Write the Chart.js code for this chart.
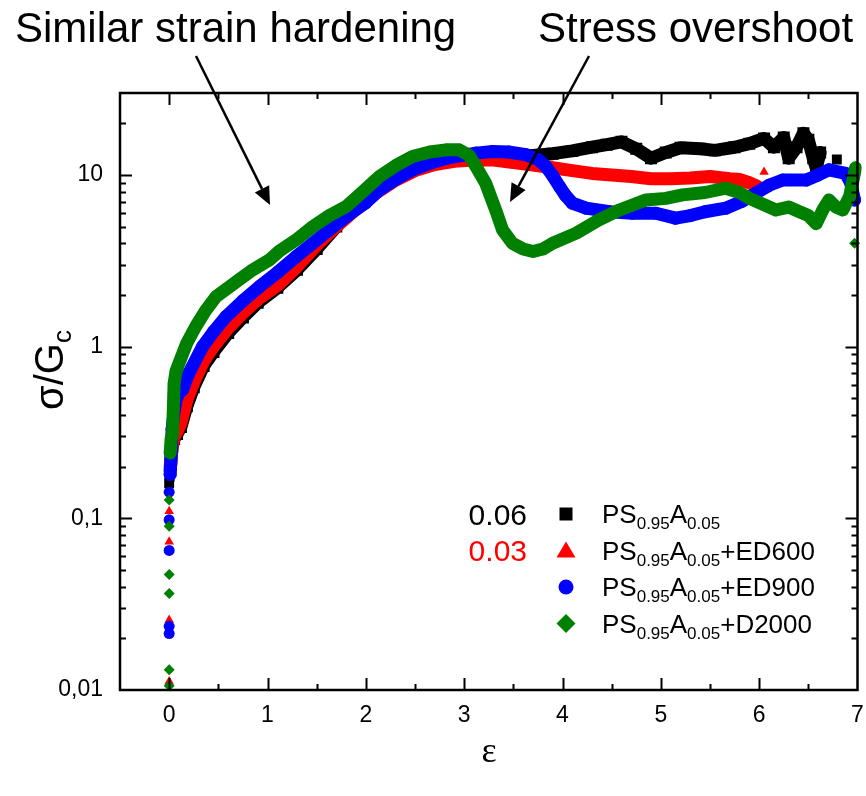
<!DOCTYPE html>
<html>
<head>
<meta charset="utf-8">
<script src="https://cdn.jsdelivr.net/npm/chart.js@4.4.0/dist/chart.umd.min.js"></script>
<style>
  html, body { margin: 0; padding: 0; background: #fff; }
  #wrap { width: 866px; height: 796px; }
</style>
</head>
<body>
<div id="wrap"><canvas id="stressChart" width="866" height="796"></canvas></div>
<script>
// axis ticks
const xTicks = [0, 1, 2, 3, 4, 5, 6, 7];
const yTicks = [0.01, 0.1, 1, 10];
const yTickLabels = ['0,01', '0,1', '1', '10'];

// PS0.95A0.05
const strainA = [0.01, 0.02, 0.03, 0.05, 0.08, 0.12, 0.18, 0.25, 0.35, 0.45, 0.6, 0.75, 0.9, 1.1, 1.3, 1.5, 1.7, 1.9, 2.1, 2.3, 2.5, 2.7, 2.9, 3.1, 3.3, 3.5, 3.7, 3.9, 4.1, 4.3, 4.45, 4.6, 4.75, 4.9, 5.05, 5.2, 5.4, 5.55, 5.75, 5.9, 6.05, 6.15, 6.25, 6.3, 6.38, 6.45, 6.5, 6.55, 6.58, 6.62];
const stressA = [0.19, 0.22, 0.26, 0.29, 0.31, 0.34, 0.45, 0.58, 0.77, 0.93, 1.2, 1.48, 1.8, 2.2, 2.8, 3.7, 5.0, 6.7, 8.8, 10.8, 12.1, 12.8, 12.9, 12.7, 12.6, 12.7, 13.0, 13.3, 13.8, 14.5, 15.0, 15.6, 14.2, 12.5, 13.5, 14.4, 14.2, 13.9, 14.5, 15.2, 16.3, 14.5, 16.5, 12.5, 14.5, 17.5, 16.0, 12.5, 11.0, 13.5];
const onsetStrainA = [0, 0.005, 6.79];
const onsetStressA = [0.16, 0.175, 12.3];

// PS0.95A0.05+ED600
const strainB = [0.01, 0.02, 0.03, 0.05, 0.08, 0.12, 0.18, 0.25, 0.35, 0.45, 0.6, 0.75, 0.9, 1.1, 1.3, 1.5, 1.7, 1.9, 2.1, 2.3, 2.5, 2.7, 2.9, 3.1, 3.3, 3.5, 3.7, 3.9, 4.1, 4.3, 4.5, 4.7, 4.9, 5.1, 5.3, 5.5, 5.7, 5.8, 5.9, 5.98];
const stressB = [0.2, 0.23, 0.26, 0.3, 0.32, 0.36, 0.49, 0.62, 0.82, 1.0, 1.28, 1.57, 1.88, 2.27, 2.92, 3.9, 5.0, 6.3, 7.8, 9.3, 10.6, 11.5, 12.0, 12.2, 12.2, 11.8, 11.4, 11.0, 10.6, 10.2, 10.0, 9.8, 9.5, 9.5, 9.6, 9.8, 9.5, 9.4, 9.0, 8.6];
const onsetStrainB = [0, 0, 0, 0, 0, 6.05];
const onsetStressB = [0.11, 0.073, 0.0256, 0.0235, 0.0112, 10.4];

// PS0.95A0.05+ED900
const strainC = [0.01, 0.02, 0.03, 0.05, 0.07, 0.1, 0.135, 0.2, 0.34, 0.45, 0.58, 0.75, 0.92, 1.1, 1.29, 1.46, 1.63, 1.8, 2.0, 2.14, 2.3, 2.475, 2.65, 2.815, 2.95, 3.12, 3.29, 3.45, 3.63, 3.75, 3.83, 3.9, 3.97, 4.03, 4.1, 4.24, 4.48, 4.71, 4.95, 5.15, 5.3, 5.45, 5.66, 5.82, 5.97, 6.1, 6.24, 6.48, 6.6, 6.71, 6.88, 6.93, 6.97];
const stressC = [0.18, 0.24, 0.33, 0.42, 0.49, 0.54, 0.56, 0.7, 1.0, 1.22, 1.5, 1.85, 2.24, 2.7, 3.34, 4.0, 4.8, 5.72, 6.9, 8.2, 9.4, 10.7, 11.7, 12.5, 12.9, 13.4, 13.7, 13.6, 13.1, 12.3, 11.2, 9.9, 8.55, 7.6, 6.85, 6.4, 6.1, 5.98, 5.98, 5.6, 5.8, 6.1, 6.4, 7.0, 7.85, 8.7, 9.35, 9.35, 10.0, 10.7, 10.2, 9.0, 7.15];
const onsetStrainC = [0, 0, 0, 0, 0];
const onsetStressC = [0.142, 0.098, 0.065, 0.0235, 0.0213];

// PS0.95A0.05+D2000
const strainD = [0.01, 0.02, 0.035, 0.05, 0.07, 0.1, 0.18, 0.27, 0.37, 0.475, 0.6, 0.71, 0.85, 1.02, 1.12, 1.29, 1.46, 1.63, 1.8, 1.97, 2.14, 2.3, 2.475, 2.65, 2.815, 2.95, 3.05, 3.12, 3.22, 3.32, 3.39, 3.49, 3.6, 3.7, 3.8, 3.9, 4.14, 4.37, 4.58, 4.85, 5.05, 5.22, 5.45, 5.66, 5.8, 5.9, 6.05, 6.17, 6.3, 6.41, 6.5, 6.58, 6.65, 6.71, 6.78, 6.85, 6.92, 6.98];
const stressD = [0.24, 0.29, 0.31, 0.61, 0.72, 0.8, 1.05, 1.31, 1.62, 1.95, 2.2, 2.45, 2.8, 3.2, 3.6, 4.18, 5.0, 5.8, 6.54, 8.0, 9.8, 11.3, 12.8, 13.6, 14.0, 14.0, 13.0, 11.2, 8.9, 6.25, 4.78, 4.0, 3.7, 3.58, 3.7, 4.0, 4.58, 5.47, 6.25, 7.15, 7.3, 7.65, 7.9, 8.37, 7.9, 7.3, 6.7, 6.25, 6.5, 6.1, 5.8, 5.2, 6.3, 7.15, 6.5, 6.25, 7.5, 11.0];
const onsetStrainD = [0, 0, 0, 0, 0, 0, 6.97];
const onsetStressD = [0.128, 0.09, 0.047, 0.0365, 0.0131, 0.0106, 4.0];

const legendLabels = ['PS_{0.95}A_{0.05}', 'PS_{0.95}A_{0.05}+ED600', 'PS_{0.95}A_{0.05}+ED900', 'PS_{0.95}A_{0.05}+D2000'];
const seriesColors = ['#000000', '#ff0000', '#0000ff', '#008000'];
const seriesMarkers = ['rect', 'triangle', 'circle', 'rectRot'];
const gapLabels = ['0.06', '0.03'];

const SANS = '"Liberation Sans", Arial, sans-serif';

const toPoints = (xs, ys) => xs.map((v, i) => ({ x: v, y: ys[i] }));

function curve(xs, ys, k) {
  return {
    data: toPoints(xs, ys),
    showLine: true,
    borderColor: seriesColors[k],
    backgroundColor: seriesColors[k],
    borderWidth: 13,
    borderJoinStyle: 'round',
    borderCapStyle: 'round',
    pointStyle: seriesMarkers[k],
    pointRadius: k === 0 ? 8.5 : 6.5,
    pointBorderWidth: 0,
    tension: 0,
    order: 3 - k,
    clip: 4,
  };
}

function onset(xs, ys, k) {
  return {
    data: toPoints(xs, ys),
    showLine: false,
    backgroundColor: seriesColors[k],
    borderColor: seriesColors[k],
    pointStyle: seriesMarkers[k],
    pointRadius: k === 0 ? 7 : 5.5,
    pointBorderWidth: 0,
    order: 3 - k,
    clip: 6,
  };
}

// filled marker for the legend
function marker(ctx, style, cx, cy) {
  ctx.beginPath();
  if (style === 'rect') {
    ctx.rect(cx - 6.5, cy - 6.5, 13, 13);
  } else if (style === 'triangle') {
    ctx.moveTo(cx, cy - 9);
    ctx.lineTo(cx + 9.5, cy + 7);
    ctx.lineTo(cx - 9.5, cy + 7);
    ctx.closePath();
  } else if (style === 'circle') {
    ctx.arc(cx, cy, 7.5, 0, Math.PI * 2);
  } else {
    ctx.moveTo(cx, cy - 9.5);
    ctx.lineTo(cx + 9.5, cy);
    ctx.lineTo(cx, cy + 9.5);
    ctx.lineTo(cx - 9.5, cy);
    ctx.closePath();
  }
  ctx.fill();
}

// text with _{...} subscripts
function richText(ctx, label, x, y, size, subSize, drop) {
  const parts = label.split(/(_\{[^}]*\})/).filter(Boolean);
  ctx.textAlign = 'left';
  ctx.textBaseline = 'alphabetic';
  for (const p of parts) {
    const sub = p.startsWith('_{');
    const t = sub ? p.slice(2, -1) : p;
    ctx.font = (sub ? subSize : size) + 'px ' + SANS;
    ctx.fillText(t, x, sub ? y + drop : y);
    x += ctx.measureText(t).width;
  }
}

function arrow(ctx, x0, y0, x1, y1) {
  const a = Math.atan2(y1 - y0, x1 - x0);
  const L = 18, W = 8;
  const bx = x1 - L * Math.cos(a), by = y1 - L * Math.sin(a);
  ctx.beginPath();
  ctx.moveTo(x0, y0);
  ctx.lineTo(bx, by);
  ctx.stroke();
  ctx.beginPath();
  ctx.moveTo(x1, y1);
  ctx.lineTo(bx + W * Math.sin(a), by - W * Math.cos(a));
  ctx.lineTo(bx - W * Math.sin(a), by + W * Math.cos(a));
  ctx.closePath();
  ctx.fill();
}

const framePlugin = {
  id: 'frame',
  afterDraw(chart) {
    const { ctx, chartArea: a, scales: { x, y } } = chart;
    ctx.save();
    ctx.strokeStyle = '#000';
    ctx.fillStyle = '#000';

    // inward ticks on all four sides
    ctx.lineWidth = 2;
    ctx.beginPath();
    for (let v = 0; v < 7; v += 0.5) {
      const px = Math.round(x.getPixelForValue(v)) + 0.5;
      const len = Number.isInteger(v) ? 12 : 6;
      ctx.moveTo(px, a.bottom); ctx.lineTo(px, a.bottom - len);
      ctx.moveTo(px, a.top); ctx.lineTo(px, a.top + len);
    }
    for (let d = 0.01; d < 30; d *= 10) {
      for (let m = 1; m <= 9; m++) {
        const v = d * m;
        if (v >= 30 || (d === 0.01 && m === 1)) continue;
        const py = Math.round(y.getPixelForValue(v)) + 0.5;
        const len = m === 1 ? 12 : 6;
        ctx.moveTo(a.left, py); ctx.lineTo(a.left + len, py);
        ctx.moveTo(a.right, py); ctx.lineTo(a.right - len, py);
      }
    }
    ctx.stroke();

    ctx.lineWidth = 2.5;
    ctx.strokeRect(a.left, a.top, a.right - a.left, a.bottom - a.top);

    // axis titles
    ctx.font = '36px "Liberation Serif", "Times New Roman", serif';
    ctx.textAlign = 'center';
    ctx.textBaseline = 'alphabetic';
    ctx.fillText('ε', 489, 762);

    ctx.save();
    ctx.translate(63, 410);
    ctx.rotate(-Math.PI / 2);
    richText(ctx, 'σ/G_{c}', 0, 0, 40, 26, 8);
    ctx.restore();

    // legend
    ctx.font = '30px ' + SANS;
    ctx.textAlign = 'right';
    ctx.fillStyle = seriesColors[0];
    ctx.fillText(gapLabels[0], 527, 525);
    ctx.fillStyle = seriesColors[1];
    ctx.fillText(gapLabels[1], 527, 561);
    legendLabels.forEach((lbl, i) => {
      const cy = 514 + i * 36.5;
      ctx.fillStyle = seriesColors[i];
      marker(ctx, seriesMarkers[i], 566, cy);
      ctx.fillStyle = '#000';
      richText(ctx, lbl, 602, cy + 9, 26, 17, 6);
    });

    // annotations
    ctx.fillStyle = '#000';
    ctx.font = '42px ' + SANS;
    ctx.textAlign = 'left';
    ctx.fillText('Similar strain hardening', 15, 42);
    ctx.fillText('Stress overshoot', 538, 42);
    ctx.lineWidth = 2.5;
    arrow(ctx, 196, 56, 270, 205);
    arrow(ctx, 589, 56, 510, 202);

    ctx.restore();
  }
};

new Chart(document.getElementById('stressChart'), {
  type: 'scatter',
  data: {
    datasets: [
      curve(strainA, stressA, 0), onset(onsetStrainA, onsetStressA, 0),
      curve(strainB, stressB, 1), onset(onsetStrainB, onsetStressB, 1),
      curve(strainC, stressC, 2), onset(onsetStrainC, onsetStressC, 2),
      curve(strainD, stressD, 3), onset(onsetStrainD, onsetStressD, 3),
    ],
  },
  options: {
    responsive: false,
    animation: false,
    devicePixelRatio: 1,
    events: [],
    layout: { padding: { top: 93, right: 8, left: 0, bottom: 0 } },
    plugins: { legend: { display: false }, tooltip: { enabled: false }, title: { display: false } },
    scales: {
      x: {
        type: 'linear',
        min: -0.5,
        max: 7,
        afterBuildTicks: s => { s.ticks = xTicks.map(v => ({ value: v })); },
        afterFit: s => { s.height = 106; s.paddingLeft = 0; s.paddingRight = 0; },
        grid: { display: false, drawTicks: false },
        border: { display: false },
        ticks: { padding: 12, color: '#000', font: { size: 23, family: SANS }, maxRotation: 0, autoSkip: false },
      },
      y: {
        type: 'logarithmic',
        min: 0.01,
        max: 30,
        afterBuildTicks: s => { s.ticks = yTicks.map(v => ({ value: v })); },
        afterFit: s => { s.width = 120; s.paddingTop = 0; s.paddingBottom = 0; },
        grid: { display: false, drawTicks: false },
        border: { display: false },
        ticks: {
          padding: 17,
          color: '#000',
          font: { size: 23, family: SANS },
          callback: (v, i) => yTickLabels[i],
        },
      },
    },
  },
  plugins: [framePlugin],
});
</script>
</body>
</html>
